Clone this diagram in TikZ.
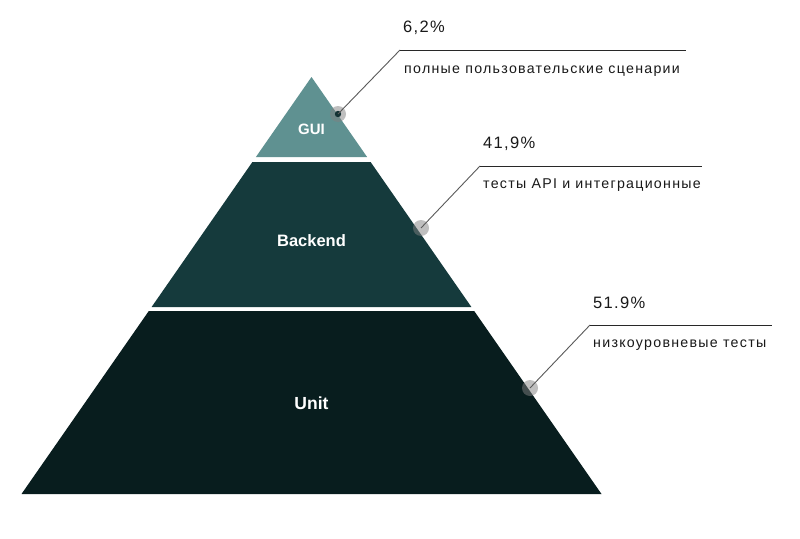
\documentclass[tikz,border=0pt]{standalone}
\usepackage{fontspec}
\setmainfont{Liberation Sans}
\newfontfamily\descfont[LetterSpace=9]{Liberation Sans}
\newfontfamily\pctfont[LetterSpace=8]{Liberation Sans}
\definecolor{guic}{RGB}{95,145,145}
\definecolor{backc}{RGB}{21,58,60}
\definecolor{unitc}{RGB}{8,29,30}
\definecolor{dotc}{RGB}{20,50,52}
\definecolor{leadc}{RGB}{90,90,90}
\definecolor{rulec}{RGB}{40,40,40}
\definecolor{txtc}{RGB}{25,25,25}
\tikzset{
  layer/.style={draw=none},
  lab/.style={text=white, font=\bfseries\fontsize{#1}{#1}\selectfont, inner sep=0pt},
  marker/.style={circle, fill=gray, fill opacity=0.5, minimum size=16pt, inner sep=0pt, draw=none},
  leader/.style={draw=leadc, line width=0.9pt},
  rulel/.style={draw=rulec, line width=1pt},
  pct/.style={text=txtc, font=\pctfont\fontsize{16.5}{18}\selectfont, anchor=west, inner sep=0pt},
  desc/.style={text=txtc, font=\descfont\fontsize{14.2}{16}\selectfont, anchor=west, inner sep=0pt}
}
\begin{document}
\begin{tikzpicture}[x=1pt,y=-1pt]
\useasboundingbox (0,0) rectangle (800,538);
\fill[white] (0,0) rectangle (800,538);
% layers
\fill[guic] (311.5,77) -- (367.1,157) -- (255.9,157) -- cycle;
\fill[backc] (252.4,162) -- (370.6,162) -- (471.4,307) -- (151.6,307) -- cycle;
\fill[unitc] (148.8,311) -- (474.2,311) -- (601.5,494) -- (21.5,494) -- cycle;
\node[lab=15] (gui) at (311.5,129) {GUI};
\node[lab=16.5] (backend) at (311.5,240.5) {Backend};
\node[lab=17.5] (unit) at (311.5,403.5) {Unit};
% markers
\node[marker] (m1) at (338,114) {};
\node[marker] (m2) at (421,228) {};
\node[marker] (m3) at (530,388) {};
\fill[dotc] (m1.center) circle (3.2);
\coordinate (c1) at (400,50);
\coordinate (e1) at (686,50);
\coordinate (c2) at (480,166);
\coordinate (e2) at (702,166);
\coordinate (c3) at (590,325);
\coordinate (e3) at (772,325);
\draw[leader] (m1.center) -- (c1);
\draw[rulel] (c1) -- (e1);
\draw[leader] (m2.center) -- (c2);
\draw[rulel] (c2) -- (e2);
\draw[leader] (m3.center) -- (c3);
\draw[rulel] (c3) -- (e3);
% texts
\node[pct] (p1) at (403,28) {6,2\%};
\node[desc] (d1) at (404,71) {полные пользовательские сценарии};
\node[pct] (p2) at (483,144) {41,9\%};
\node[desc] (d2) at (483,185) {тесты API и интеграционные};
\node[pct] (p3) at (593,303) {51.9\%};
\node[desc] (d3) at (593,345) {низкоуровневые тесты};
\end{tikzpicture}
\end{document}
